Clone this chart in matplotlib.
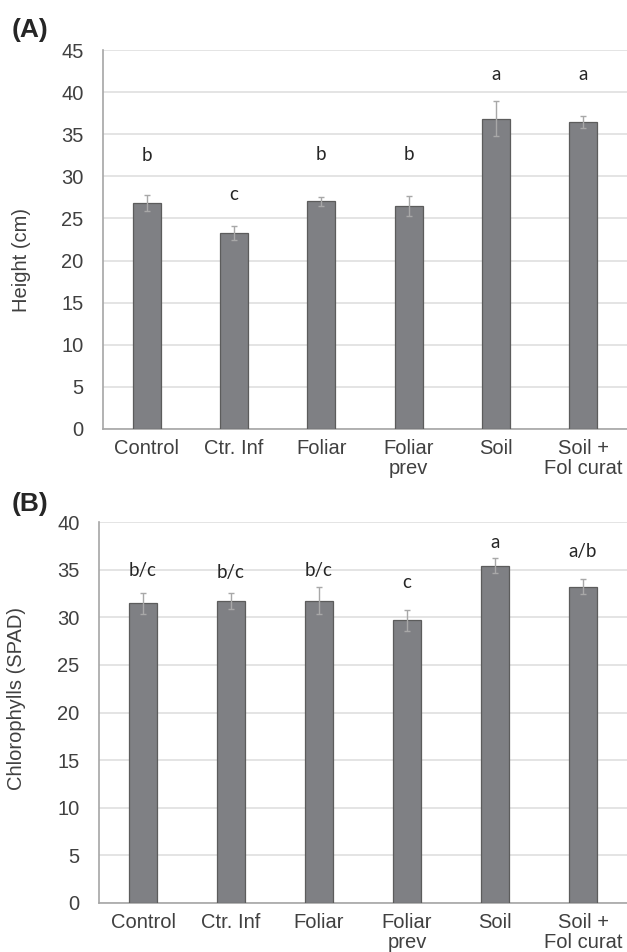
import matplotlib
matplotlib.use("Agg")
import matplotlib.pyplot as plt

# treatments shared by both panels
treatments = ["Control", "Ctr. Inf", "Foliar", "Foliar\nprev", "Soil", "Soil +\nFol curat"]

# (A) plant height, cm
height_mean = [26.8, 23.3, 27.05, 26.5, 36.85, 36.45]
height_err = [0.95, 0.85, 0.55, 1.2, 2.1, 0.7]
height_groups = ["b", "c", "b", "b", "a", "a"]

# (B) chlorophylls, SPAD units
spad_mean = [31.45, 31.7, 31.75, 29.7, 35.4, 33.2]
spad_err = [1.1, 0.8, 1.4, 1.1, 0.8, 0.8]
spad_groups = ["b/c", "b/c", "b/c", "c", "a", "a/b"]

# where the significance letters sit (data units)
height_letter_y = [32.5, 27.8, 32.6, 32.6, 42.1, 42.1]
spad_letter_y = [34.9, 34.7, 34.9, 33.6, 37.9, 36.9]

plt.rcParams["font.family"] = ["Liberation Sans", "DejaVu Sans"]

BAR = "#7f8084"
EDGE = "#5c5c5c"
GRID = "#dcdcdc"
AXIS = "#a6a6a6"
TXT = "#404040"

fig = plt.figure(figsize=(6.27, 9.52), dpi=100)
ax_a = fig.add_axes([103 / 627, (952 - 429) / 952, 524 / 627, 379 / 952])
ax_b = fig.add_axes([99 / 627, (952 - 903) / 952, 528 / 627, 381 / 952])


def draw_panel(ax, means, errs, groups, letter_y, ymax):
    x = range(len(treatments))
    ax.bar(x, means, width=0.32, color=BAR, edgecolor=EDGE, linewidth=0.9, zorder=3)
    ax.errorbar(x, means, yerr=errs, fmt="none", ecolor="#a8a8a8",
                elinewidth=1.0, capsize=2, capthick=1.0, zorder=4)
    for i, g in enumerate(groups):
        ax.text(i, letter_y[i], g, ha="center", va="center", fontsize=13.5,
                family=["Lato", "DejaVu Sans"], color="#262626")
    ax.set_xlim(-0.5, len(treatments) - 0.5)
    ax.set_ylim(0, ymax)
    ax.set_yticks(range(0, ymax + 1, 5))
    ax.yaxis.grid(True, color=GRID, linewidth=1.1, zorder=0)
    ax.set_axisbelow(True)
    ax.set_xticks(list(x))
    ax.set_xticklabels(treatments, linespacing=1.1)
    ax.tick_params(axis="y", length=0, pad=14, labelsize=14.5, labelcolor=TXT)
    ax.tick_params(axis="x", length=0, pad=7, labelsize=14.5, labelcolor=TXT)
    for side in ("top", "right"):
        ax.spines[side].set_visible(False)
    for side in ("left", "bottom"):
        ax.spines[side].set_color(AXIS)
        ax.spines[side].set_linewidth(1.2)


draw_panel(ax_a, height_mean, height_err, height_groups, height_letter_y, 45)
draw_panel(ax_b, spad_mean, spad_err, spad_groups, spad_letter_y, 40)

fig.text(22 / 627, 1 - 260 / 952, "Height (cm)", rotation=90, ha="center",
         va="center", fontsize=14.5, color=TXT)
fig.text(17 / 627, 1 - 699 / 952, "Chlorophylls (SPAD)", rotation=90, ha="center",
         va="center", fontsize=14.5, color=TXT)

fig.text(12 / 627, 1 - 30 / 952, "(A)", ha="left", va="center", fontsize=19,
         fontweight="bold", color="#262626")
fig.text(12 / 627, 1 - 504 / 952, "(B)", ha="left", va="center", fontsize=19,
         fontweight="bold", color="#262626")

fig.savefig("out.png", dpi=100, facecolor="white")
